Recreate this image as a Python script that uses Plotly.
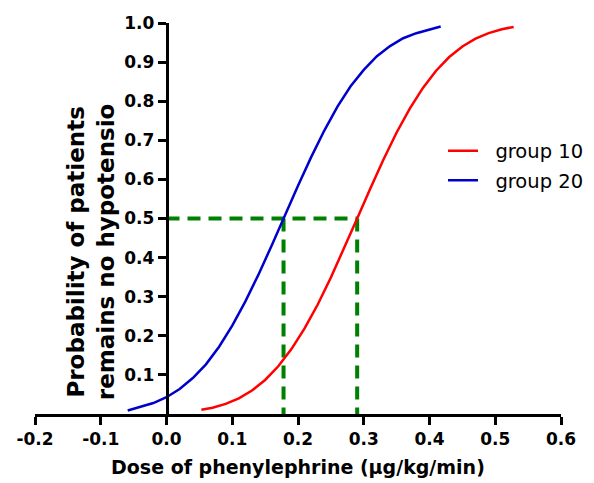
import plotly.graph_objects as go

# Group 10 (red) dose-response curve
dose_g10 = [0.053, 0.07, 0.09, 0.11, 0.13, 0.15, 0.17, 0.19, 0.21, 0.23, 0.25, 0.27, 0.29,
            0.31, 0.33, 0.35, 0.37, 0.39, 0.41, 0.43, 0.45, 0.47, 0.49, 0.51, 0.528]
prob_g10 = [0.011, 0.016, 0.026, 0.040, 0.060, 0.087, 0.122, 0.166, 0.219, 0.280, 0.349, 0.423, 0.500,
            0.577, 0.651, 0.720, 0.781, 0.834, 0.878, 0.913, 0.940, 0.960, 0.974, 0.984, 0.990]

# Group 20 (blue) dose-response curve
dose_g20 = [-0.059, -0.04, -0.02, 0.0, 0.02, 0.04, 0.06, 0.08, 0.10, 0.12, 0.14, 0.16, 0.18,
            0.20, 0.22, 0.24, 0.26, 0.28, 0.30, 0.32, 0.34, 0.36, 0.38, 0.40, 0.417]
prob_g20 = [0.009, 0.018, 0.028, 0.043, 0.064, 0.092, 0.127, 0.172, 0.226, 0.288, 0.357, 0.431, 0.508,
            0.584, 0.657, 0.725, 0.786, 0.838, 0.880, 0.915, 0.941, 0.961, 0.974, 0.984, 0.991]

# ED50 reference lines
ed50_g20 = 0.178
ed50_g10 = 0.29
ref_level = 0.5

x_ticks = [-0.2, -0.1, 0.0, 0.1, 0.2, 0.3, 0.4, 0.5, 0.6]
x_tick_labels = ["-0.2", "-0.1", "0.0", "0.1", "0.2", "0.3", "0.4", "0.5", "0.6"]
y_ticks = [0.1, 0.2, 0.3, 0.4, 0.5, 0.6, 0.7, 0.8, 0.9, 1.0]
y_tick_labels = ["0.1", "0.2", "0.3", "0.4", "0.5", "0.6", "0.7", "0.8", "0.9", "1.0"]

FONT = "DejaVu Sans"
GREEN = "#008000"
NB = "\u00a0\u00a0"

# layout geometry (pixels)
W, H = 594, 483
ML, MR, MT, MB = 35, 33, 23, 69
PLOT_W = W - ML - MR


def px_x(p):
    return (p - ML) / PLOT_W


fig = go.Figure()

# dashed guide lines
for xs, ys in (([0.0, ed50_g10], [ref_level, ref_level]),
               ([ed50_g20, ed50_g20], [ref_level, 0.0]),
               ([ed50_g10, ed50_g10], [ref_level, 0.0])):
    fig.add_trace(go.Scatter(x=xs, y=ys, mode="lines",
                             line=dict(color=GREEN, width=4, dash="13px,8px"),
                             showlegend=False, hoverinfo="skip"))

fig.add_trace(go.Scatter(x=dose_g10, y=prob_g10, mode="lines", name=NB + "group 10",
                         legendgroup="g10",
                         line=dict(color="#FF0000", width=2.5)))
fig.add_trace(go.Scatter(x=dose_g20, y=prob_g20, mode="lines", name=NB + "group 20",
                         legendgroup="g20",
                         line=dict(color="#0000CD", width=2.5)))

fig.update_layout(
    width=W, height=H,
    margin=dict(l=ML, r=MR, t=MT, b=MB, autoexpand=False),
    paper_bgcolor="white", plot_bgcolor="white",
    font=dict(family=FONT, color="black"),
    legend=dict(x=px_x(443), y=0.722, xanchor="left", yanchor="top",
                font=dict(family=FONT, size=19.5, color="black"),
                itemwidth=30, tracegroupgap=1, traceorder="grouped",
                bgcolor="rgba(0,0,0,0)"),
    xaxis=dict(range=[-0.2, 0.6], domain=[0, 1], showgrid=False, zeroline=False,
               showline=True, linecolor="black", linewidth=2.5,
               ticks="outside", ticklen=8, tickwidth=2.5, tickcolor="black",
               tickvals=x_ticks, ticktext=x_tick_labels,
               tickfont=dict(family=FONT, size=17, weight="bold", color="black")),
    yaxis=dict(range=[0, 1.0], anchor="free", position=0.25, showgrid=False, zeroline=False,
               showline=True, linecolor="black", linewidth=2.5,
               ticks="outside", ticklen=8, tickwidth=2.5, tickcolor="black",
               tickvals=y_ticks, ticktext=y_tick_labels,
               tickfont=dict(family=FONT, size=17, weight="bold", color="black")),
    annotations=[
        dict(text="Probability of patients<br>remains no hypotensio",
             x=px_x(91), y=0.414, xref="paper", yref="paper", xanchor="center", yanchor="middle",
             textangle=-90, showarrow=False,
             font=dict(family=FONT, size=23, weight="bold", color="black")),
        dict(text="Dose of phenylephrine (\u03bcg/kg/min)",
             x=px_x(298), y=-0.1355, xref="paper", yref="paper", xanchor="center", yanchor="middle",
             showarrow=False,
             font=dict(family=FONT, size=19, weight="bold", color="black")),
    ],
)

fig.write_html("out.html", config={"displayModeBar": False},
               post_script="document.body.style.margin='0';")
